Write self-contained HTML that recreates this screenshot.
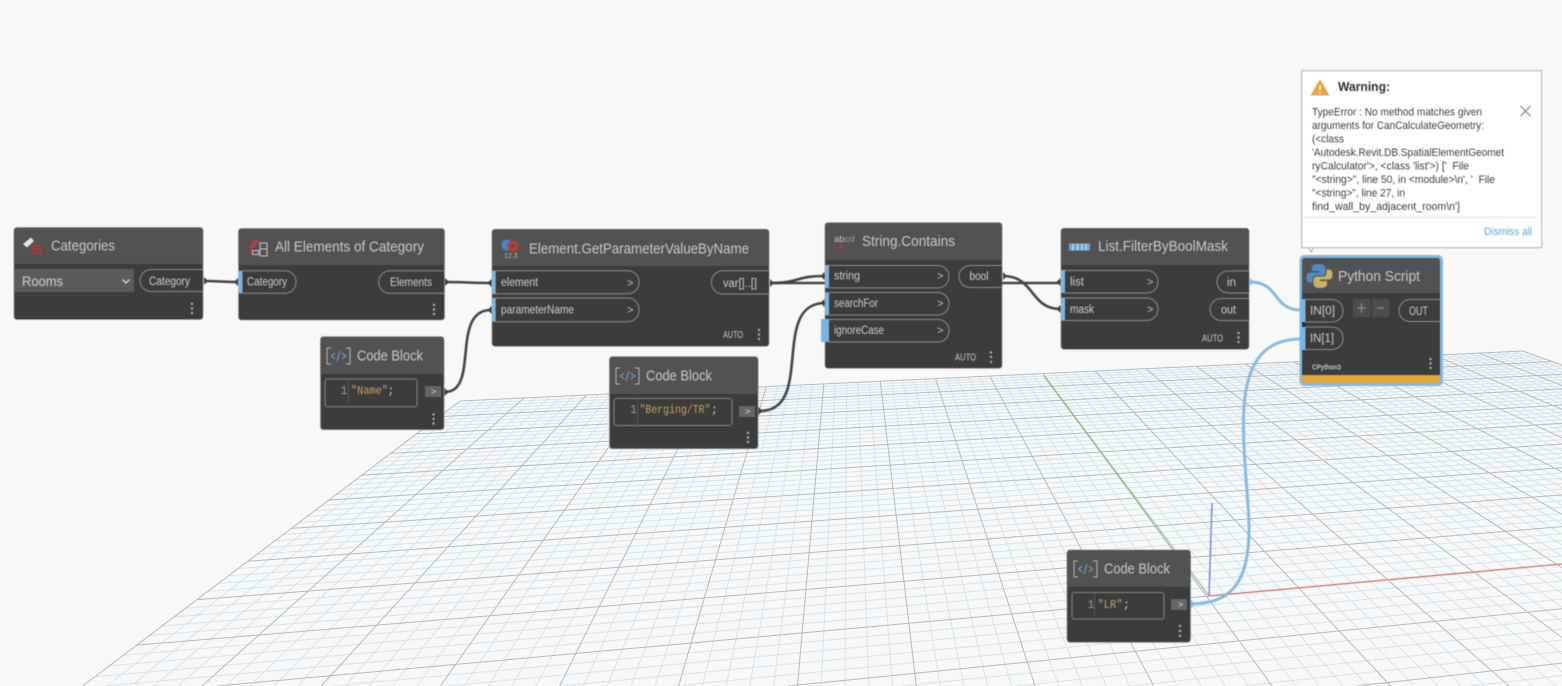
<!DOCTYPE html>
<html lang="en">
<head>
<meta charset="utf-8">
<title>Dynamo graph</title>
<style>
html,body{margin:0;padding:0;background:#f8f8f8;width:1562px;height:686px;overflow:hidden}
svg{display:block;position:absolute;left:0;top:0}
text{font-family:"Liberation Sans",sans-serif}
.t{font-size:14.5px;fill:#c9c9c9}
.p{font-size:11.5px;fill:#cfcfcf}
.a{font-size:10.5px;fill:#c8c8c8}
.g{font-size:11px;fill:#c0c0c0}
.m{font-family:"Liberation Mono",monospace;font-size:11.5px}
.w{font-size:11px;fill:#3c3c3c}
.body{fill:#3c3c3c;stroke:#8a8a8a;stroke-width:.6}
.hd{fill:#525252}
.pill{fill:#3c3c3c;stroke:#8c8c8c;stroke-width:1}
.strip{fill:#79b5e2}
.dot{fill:#b0b0b0}
.wire{fill:none;stroke:#434343;stroke-width:2.6}
.bw{fill:none;stroke:#82bbe6;stroke-width:3}
.box{fill:#3c3c3c;stroke:#858585;stroke-width:1}
.btn{fill:#666}
</style>
</head>
<body>
<svg id="grid" width="1562" height="686" viewBox="0 0 1562 686" xmlns="http://www.w3.org/2000/svg" style="filter:blur(.3px)"></svg>
<svg width="1562" height="686" viewBox="0 0 1562 686" xmlns="http://www.w3.org/2000/svg" style="filter:blur(.4px)">
<defs>
<g id="cbicon" fill="none" stroke="#b4b4b4" stroke-width="1">
<path d="M5 0H1V16H5M20 0H24V16H20"/>
<path d="M9 5L5.500 8L9 11M16 5L19.500 8L16 11M14 3L11 13" stroke="#6fa8d8"/>
</g>
</defs>

<!-- axes -->
<line x1="1044" y1="376" x2="1209" y2="596" stroke="#7dab69" stroke-width="1"/>
<line x1="1209" y1="596" x2="1562" y2="564" stroke="#e67b7b" stroke-width="1.200"/>
<line x1="1209" y1="596" x2="1212" y2="503" stroke="#6f68f0" stroke-width="1.200"/>

<!-- wires -->
<path class="wire" d="M204 281C220 281 222 282 238 282"/>
<path class="wire" d="M445 282C465 282 470 283 491 283"/>
<path class="wire" d="M445 392C480 392 450 310 491 310" />
<path class="wire" d="M770 283C800 283 795 276 825 276" stroke-width="2"/>
<path class="wire" d="M770 283H1060" stroke-width="2"/>
<path class="wire" d="M760 411C815 411 770 303 825 303"/>
<path class="wire" d="M1003 276C1035 276 1030 309 1060 309"/>
<path class="bw" d="M1250 282C1280 282 1272 310 1301 310"/>
<path class="bw" d="M1192 604C1225 603 1250 590 1249 525C1248 490 1243 460 1243.500 420C1244 365 1262 339 1301 339"/>

<!-- Categories -->
<rect class="body" x="14" y="227.500" width="189" height="92" rx="3"/>
<path class="hd" d="M14 264V230.500a3 3 0 0 1 3-3H200a3 3 0 0 1 3 3V264Z"/>
<rect x="14" y="269" width="120" height="23" fill="#5c5c5c"/>
<text x="22" y="286" font-size="14" fill="#cfcfcf" textLength="41" lengthAdjust="spacingAndGlyphs">Rooms</text>
<path d="M122.500 279.500L126 283L129.500 279.500" fill="none" stroke="#ddd" stroke-width="1.300"/>
<path class="pill" d="M203 269.500H151a11 11 0 0 0 0 22H203"/>
<text class="p" x="149" y="285" textLength="41" lengthAdjust="spacingAndGlyphs">Category</text>
<text class="t" x="51" y="250.500" textLength="64" lengthAdjust="spacingAndGlyphs">Categories</text>
<path d="M23 244L31 237.500L34 241L27 247.500Z" fill="#e4e4e4"/>
<path d="M31 246H42M31 249.500H42M31 253H42" stroke="#b23434" stroke-width="2" fill="none"/>
<circle class="dot" cx="192" cy="304" r="1.200"/><circle class="dot" cx="192" cy="308.500" r="1.200"/><circle class="dot" cx="192" cy="313" r="1.200"/>
<path d="M204 277V285L208 281Z" fill="#3c3c3c"/>

<!-- All Elements -->
<rect class="body" x="238.500" y="228.500" width="206" height="91.500" rx="3"/>
<path class="hd" d="M238.500 265V231.500a3 3 0 0 1 3-3H441.500a3 3 0 0 1 3 3V265Z"/>
<text class="t" x="275" y="251.500" textLength="149" lengthAdjust="spacingAndGlyphs">All Elements of Category</text>
<path d="M250 246L256 238.500L259 240.500L254 248L250 250Z" fill="#b83c3c"/>
<path d="M250 248V255H254" fill="none" stroke="#a53a3a"/>
<rect x="260" y="243" width="7" height="13" fill="none" stroke="#c8c8c8"/>
<path d="M260 249H267" stroke="#c8c8c8"/><rect x="252.500" y="250.500" width="6" height="4" fill="none" stroke="#c8c8c8"/>
<path class="pill" d="M242 270.700H285a11 11 0 0 1 11 11v.6a11 11 0 0 1-11 11H242"/>
<rect class="strip" x="238.500" y="270.700" width="4" height="22.600"/>
<text class="p" x="247" y="285.500" textLength="40" lengthAdjust="spacingAndGlyphs">Category</text>
<path class="pill" d="M444 270.700H390a11 11 0 0 0 0 22.600H444"/>
<text class="p" x="390" y="286" textLength="42" lengthAdjust="spacingAndGlyphs">Elements</text>
<circle class="dot" cx="434" cy="305" r="1.200"/><circle class="dot" cx="434" cy="309.500" r="1.200"/><circle class="dot" cx="434" cy="314" r="1.200"/>
<path d="M238 278V286L234 282Z" fill="#3c3c3c"/><path d="M445 278V286L449 282Z" fill="#3c3c3c"/>

<!-- Code Block 1 -->
<rect class="body" x="320.500" y="336.700" width="123.500" height="93" rx="3"/>
<path class="hd" d="M320.500 374V339.700a3 3 0 0 1 3-3H441a3 3 0 0 1 3 3V374Z"/>
<use href="#cbicon" x="326" y="348"/>
<text class="t" x="357" y="360.500" textLength="66" lengthAdjust="spacingAndGlyphs">Code Block</text>
<rect class="box" x="325" y="379" width="92" height="27.700" rx="2.500"/>
<line x1="348.500" y1="381" x2="348.500" y2="404" stroke="#555"/>
<text class="m" x="340.500" y="394" fill="#9a9a9a">1</text>
<text class="m" x="351" y="394" fill="#c9a064" textLength="37" lengthAdjust="spacingAndGlyphs">"Name"</text>
<text class="m" x="387.500" y="394" fill="#c8c8c8">;</text>
<rect class="btn" x="425" y="386" width="16" height="11"/>
<text x="431" y="394.500" font-size="9" fill="#ddd">&gt;</text>
<circle class="dot" cx="433.500" cy="414.500" r="1.200"/><circle class="dot" cx="433.500" cy="419" r="1.200"/><circle class="dot" cx="433.500" cy="423.500" r="1.200"/>
<path d="M444.500 388V396L448.500 392Z" fill="#3c3c3c"/>

<!-- Element.GetParameterValueByName -->
<rect class="body" x="492" y="229.300" width="277" height="117" rx="3"/>
<path class="hd" d="M492 266V232.300a3 3 0 0 1 3-3H766a3 3 0 0 1 3 3V266Z"/>
<text class="t" x="529" y="253.500" textLength="220" lengthAdjust="spacingAndGlyphs">Element.GetParameterValueByName</text>
<circle cx="507" cy="245" r="5.500" fill="#4a86c8"/>
<circle cx="513" cy="246" r="5.500" fill="#b83c3c"/><circle cx="513" cy="246" r="2" fill="#525252"/>
<text x="504" y="258" font-size="7" fill="#bdbdbd">12.3</text>
<path class="pill" d="M495 270.700H628a11 11 0 0 1 11 11v1a11 11 0 0 1-11 11H495"/>
<path class="pill" d="M495 298H628a11 11 0 0 1 11 11v1.700a11 11 0 0 1-11 11H495"/>
<rect class="strip" x="492" y="270.700" width="3.700" height="23.300"/>
<rect class="strip" x="492" y="298" width="3.700" height="23.700"/>
<text class="p" x="501" y="286" textLength="37" lengthAdjust="spacingAndGlyphs">element</text>
<text class="p" x="501" y="313.500" textLength="73" lengthAdjust="spacingAndGlyphs">parameterName</text>
<text class="g" x="627" y="286.500">&gt;</text><text class="g" x="627" y="313.500">&gt;</text>
<path class="pill" d="M769 270.700H723a11 11 0 0 0 0 23.300H769"/>
<text class="p" x="723" y="287" textLength="34" lengthAdjust="spacingAndGlyphs">var[]..[]</text>
<text class="a" x="723" y="338" textLength="20" lengthAdjust="spacingAndGlyphs">AUTO</text>
<circle class="dot" cx="759" cy="330" r="1.200"/><circle class="dot" cx="759" cy="334.500" r="1.200"/><circle class="dot" cx="759" cy="339" r="1.200"/>
<path d="M491.500 279V287L487.500 283Z" fill="#3c3c3c"/><path d="M491.500 306V314L487.500 310Z" fill="#3c3c3c"/><path d="M770 279V287L774 283Z" fill="#3c3c3c"/>

<!-- Code Block 2 -->
<rect class="body" x="609.500" y="356.700" width="148.500" height="92" rx="3"/>
<path class="hd" d="M609.500 394V359.700a3 3 0 0 1 3-3H755a3 3 0 0 1 3 3V394Z"/>
<use href="#cbicon" x="615" y="368"/>
<text class="t" x="646" y="380.500" textLength="66" lengthAdjust="spacingAndGlyphs">Code Block</text>
<rect class="box" x="614" y="398.500" width="118" height="27" rx="2.500"/>
<line x1="637.500" y1="400" x2="637.500" y2="424" stroke="#555"/>
<text class="m" x="630" y="413" fill="#9a9a9a">1</text>
<text class="m" x="639.500" y="413" fill="#c9a064" textLength="71" lengthAdjust="spacingAndGlyphs">"Berging/TR"</text>
<text class="m" x="711" y="413" fill="#c8c8c8">;</text>
<rect class="btn" x="739" y="406" width="16" height="11"/>
<text x="745" y="414.500" font-size="9" fill="#ddd">&gt;</text>
<circle class="dot" cx="748" cy="433" r="1.200"/><circle class="dot" cx="748" cy="437.500" r="1.200"/><circle class="dot" cx="748" cy="442" r="1.200"/>
<path d="M758.500 407V415L762.500 411Z" fill="#3c3c3c"/>

<!-- String.Contains -->
<rect class="body" x="825" y="222.700" width="177" height="145.600" rx="3"/>
<path class="hd" d="M825 260V225.700a3 3 0 0 1 3-3H999a3 3 0 0 1 3 3V260Z"/>
<text class="t" x="862" y="246" textLength="93" lengthAdjust="spacingAndGlyphs">String.Contains</text>
<text x="834" y="242" font-size="9.500" fill="#c4c4c4">ab<tspan fill="#6fa8d8">cd</tspan></text>
<path d="M838 248L841 244L844 248Z" fill="#b23c3c"/>
<path class="pill" d="M829 265.500H938a11 11 0 0 1 11 11v.4a11 11 0 0 1-11 11H829"/>
<path class="pill" d="M829 292.500H938a11 11 0 0 1 11 11v.5a11 11 0 0 1-11 11H829"/>
<path class="pill" d="M829 319.500H938a11 11 0 0 1 11 11v.5a11 11 0 0 1-11 11H829"/>
<rect class="strip" x="825" y="265" width="4" height="23"/>
<rect class="strip" x="825" y="292.300" width="4" height="23"/>
<rect class="strip" x="821" y="319" width="8" height="23"/>
<text class="p" x="834" y="279.500" textLength="26" lengthAdjust="spacingAndGlyphs">string</text>
<text class="p" x="834" y="307" textLength="44" lengthAdjust="spacingAndGlyphs">searchFor</text>
<text class="p" x="834" y="334" textLength="50" lengthAdjust="spacingAndGlyphs">ignoreCase</text>
<text class="g" x="937" y="279.500">&gt;</text><text class="g" x="937" y="307">&gt;</text><text class="g" x="937" y="334">&gt;</text>
<path class="pill" d="M1002 265.500H970a11 11 0 0 0 0 22H1002"/>
<text class="p" x="969.500" y="280" textLength="19" lengthAdjust="spacingAndGlyphs">bool</text>
<text class="a" x="955" y="360.500" textLength="21" lengthAdjust="spacingAndGlyphs">AUTO</text>
<circle class="dot" cx="991" cy="352.500" r="1.200"/><circle class="dot" cx="991" cy="357" r="1.200"/><circle class="dot" cx="991" cy="362" r="1.200"/>
<path d="M824.500 272V280L820.500 276Z" fill="#3c3c3c"/><path d="M824.500 299V307L820.500 303Z" fill="#3c3c3c"/><path d="M1003 272V280L1007 276Z" fill="#3c3c3c"/>

<!-- List.FilterByBoolMask -->
<rect class="body" x="1061" y="228.300" width="188" height="121" rx="3"/>
<path class="hd" d="M1061 265V231.300a3 3 0 0 1 3-3H1246a3 3 0 0 1 3 3V265Z"/>
<text class="t" x="1098" y="251" textLength="130" lengthAdjust="spacingAndGlyphs">List.FilterByBoolMask</text>
<rect x="1069" y="243.500" width="21" height="7" fill="#6fa8d8"/>
<path d="M1073 243.500V250.500M1077.500 243.500V250.500M1082 243.500V250.500M1086 243.500V250.500" stroke="#e0e0e0" stroke-width="1"/>
<path class="pill" d="M1065 270.500H1147a11 11 0 0 1 11 11v.5a11 11 0 0 1-11 11H1065"/>
<path class="pill" d="M1065 298H1147a11 11 0 0 1 11 11v.5a11 11 0 0 1-11 11H1065"/>
<rect class="strip" x="1061" y="270" width="4" height="23"/>
<rect class="strip" x="1061" y="297.700" width="4" height="23"/>
<text class="p" x="1070" y="285.500" textLength="14" lengthAdjust="spacingAndGlyphs">list</text>
<text class="p" x="1070" y="313" textLength="24" lengthAdjust="spacingAndGlyphs">mask</text>
<text class="g" x="1147" y="285.500">&gt;</text><text class="g" x="1147" y="313">&gt;</text>
<path class="pill" d="M1249 271H1228a11 11 0 0 0 0 22H1249"/>
<path class="pill" d="M1249 298.500H1221a11 11 0 0 0 0 22H1249"/>
<text class="p" x="1227" y="286" textLength="9" lengthAdjust="spacingAndGlyphs">in</text>
<text class="p" x="1221" y="313.500" textLength="15" lengthAdjust="spacingAndGlyphs">out</text>
<text class="a" x="1202" y="341.500" textLength="21" lengthAdjust="spacingAndGlyphs">AUTO</text>
<circle class="dot" cx="1238.500" cy="333" r="1.200"/><circle class="dot" cx="1238.500" cy="337.500" r="1.200"/><circle class="dot" cx="1238.500" cy="342" r="1.200"/>
<path d="M1060.500 278V286L1056.500 282Z" fill="#3c3c3c"/><path d="M1060.500 305V313L1056.500 309Z" fill="#3c3c3c"/>
<path d="M1250 278V286L1254 282Z" fill="#82bbe6"/>

<!-- Python Script -->
<rect x="1299.500" y="255" width="143.500" height="131" rx="5" fill="#80b9e5"/>
<rect x="1302" y="258" width="138" height="125" rx="3" fill="#3c3c3c"/>
<path class="hd" d="M1302 293V261a3 3 0 0 1 3-3H1437a3 3 0 0 1 3 3V293Z"/>
<text class="t" x="1338" y="281" textLength="82" lengthAdjust="spacingAndGlyphs">Python Script</text>
<path d="M1319 264c-5 0-7 1.500-7 4v3h7v1.500h-9c-2.500 0-3.500 2-3.500 5s1 5 3.500 5h2.500v-3.500c0-2 1.500-3.500 3.500-3.500h6c2 0 3.500-1.500 3.500-3v-4.500c0-2.500-2.500-4-6.500-4Z" fill="#4f8ac2"/>
<path d="M1320 288c5 0 7-1.500 7-4v-3h-7v-1.500h9c2.500 0 3.500-2 3.500-5s-1-5-3.500-5h-2.500v3.500c0 2-1.500 3.500-3.500 3.500h-6c-2 0-3.500 1.500-3.500 3v4.500c0 2.500 2.500 4 6.500 4Z" fill="#c9b063"/>
<rect x="1302" y="375" width="138" height="8" fill="#e3a23c"/>
<path class="pill" d="M1305 299.500H1332a11 11 0 0 1 11 11v.5a11 11 0 0 1-11 11H1305"/>
<path class="pill" d="M1305 327H1332a11 11 0 0 1 11 11v.5a11 11 0 0 1-11 11H1305"/>
<rect class="strip" x="1302" y="299" width="3.500" height="23"/>
<rect class="strip" x="1302" y="327" width="3.500" height="23"/>
<rect x="1302" y="322.500" width="3.500" height="4" fill="#2e2e2e"/>
<text class="p" x="1310" y="314.500" textLength="25" lengthAdjust="spacingAndGlyphs">IN[0]</text>
<text class="p" x="1310" y="342" textLength="24" lengthAdjust="spacingAndGlyphs">IN[1]</text>
<rect x="1353" y="299" width="17.500" height="18" rx="2" fill="#4d4d4d"/>
<rect x="1372" y="299" width="17.500" height="18" rx="2" fill="#4d4d4d"/>
<path d="M1357 308H1366M1361.500 303.500V312.500" stroke="#8f8f8f" stroke-width="1.300"/>
<path d="M1377 308H1384" stroke="#8f8f8f" stroke-width="1.300"/>
<path class="pill" d="M1440 299.500H1410a11 11 0 0 0 0 22H1440"/>
<text class="p" x="1409" y="315" textLength="19" lengthAdjust="spacingAndGlyphs">OUT</text>
<text x="1312" y="369.500" font-size="7.500" font-weight="bold" fill="#c4c4c4" textLength="29" lengthAdjust="spacingAndGlyphs">CPython3</text>
<circle class="dot" cx="1430.500" cy="359" r="1.200"/><circle class="dot" cx="1430.500" cy="363.500" r="1.200"/><circle class="dot" cx="1430.500" cy="368" r="1.200"/>

<!-- Warning popup -->
<rect x="1301.700" y="70.700" width="240" height="177" fill="#fff" stroke="#aeaeae" stroke-width="1"/>
<path d="M1309 248.500L1311 252L1313 248.500" fill="#fff" stroke="#999" stroke-width=".8"/>
<path d="M1320 79L1329.500 95.500H1310.500Z" fill="#e8a33d"/>
<path d="M1320 85V90.500M1320 92V93.500" stroke="#fff" stroke-width="1.500"/>
<text x="1338" y="91" font-size="13" font-weight="bold" fill="#2e2e2e" textLength="52" lengthAdjust="spacingAndGlyphs">Warning:</text>
<text class="w" x="1312" y="115.500" textLength="170" lengthAdjust="spacingAndGlyphs">TypeError : No method matches given</text>
<text class="w" x="1312" y="129" textLength="172" lengthAdjust="spacingAndGlyphs">arguments for CanCalculateGeometry:</text>
<text class="w" x="1312" y="142.500" textLength="32" lengthAdjust="spacingAndGlyphs">(&lt;class</text>
<text class="w" x="1312" y="156" textLength="192" lengthAdjust="spacingAndGlyphs">'Autodesk.Revit.DB.SpatialElementGeomet</text>
<text class="w" x="1312" y="169.500" textLength="157" lengthAdjust="spacingAndGlyphs" xml:space="preserve">ryCalculator'&gt;, &lt;class 'list'&gt;) ['  File</text>
<text class="w" x="1312" y="183" textLength="183" lengthAdjust="spacingAndGlyphs" xml:space="preserve">"&lt;string&gt;", line 50, in &lt;module&gt;\n', '  File</text>
<text class="w" x="1312" y="196.500" textLength="93" lengthAdjust="spacingAndGlyphs">"&lt;string&gt;", line 27, in</text>
<text class="w" x="1312" y="210" textLength="148" lengthAdjust="spacingAndGlyphs">find_wall_by_adjacent_room\n']</text>
<path d="M1520.500 106L1530.500 116M1530.500 106L1520.500 116" stroke="#777" stroke-width="1"/>
<line x1="1302" y1="217.500" x2="1541" y2="217.500" stroke="#e8e8e8"/>
<text x="1484" y="235" font-size="11" fill="#5aa5db" textLength="48" lengthAdjust="spacingAndGlyphs">Dismiss all</text>

<!-- Code Block 3 -->
<rect class="body" x="1067" y="550" width="123.500" height="92.300" rx="3"/>
<path class="hd" d="M1067 586.700V553a3 3 0 0 1 3-3H1187.500a3 3 0 0 1 3 3V586.700Z"/>
<use href="#cbicon" x="1073" y="561"/>
<text class="t" x="1104" y="573.500" textLength="66" lengthAdjust="spacingAndGlyphs">Code Block</text>
<rect class="box" x="1072" y="592.500" width="92" height="26.500" rx="2.500"/>
<line x1="1094.500" y1="594" x2="1094.500" y2="617" stroke="#555"/>
<text class="m" x="1087.500" y="608" fill="#9a9a9a">1</text>
<text class="m" x="1097.500" y="608" fill="#c9a064" textLength="25" lengthAdjust="spacingAndGlyphs">"LR"</text>
<text class="m" x="1123" y="608" fill="#c8c8c8">;</text>
<rect class="btn" x="1171" y="599" width="16" height="11"/>
<text x="1178" y="607.500" font-size="9" fill="#ddd">&gt;</text>
<circle class="dot" cx="1180" cy="626" r="1.200"/><circle class="dot" cx="1180" cy="631" r="1.200"/><circle class="dot" cx="1180" cy="636" r="1.200"/>
<path d="M1191 600V608L1195 604Z" fill="#82bbe6"/>
</svg>
<script>
(function(){
var s=document.getElementById('grid'),NS='http://www.w3.org/2000/svg';
var a=0.2146,b=-1.01,Vx=[6476,118],Vy=[848,108],A=[460,401];
var W=1562,H=686;
function P(u,v){var w=1+a*u+b*v;return[(a*u*Vx[0]+b*v*Vy[0]+A[0])/w,(a*u*Vx[1]+b*v*Vy[1]+A[1])/w];}
function L(p,q,c,wd){
  var dx=q[0]-p[0],dy=q[1]-p[1],t0=0,t1=1;
  var ps=[-dx,dx,-dy,dy],qs=[p[0],W-p[0],p[1],H-p[1]];
  for(var k=0;k<4;k++){
    if(ps[k]===0){if(qs[k]<0)return;continue;}
    var r=qs[k]/ps[k];
    if(ps[k]<0){if(r>t1)return;if(r>t0)t0=r;}
    else{if(r<t0)return;if(r<t1)t1=r;}
  }
  var l=document.createElementNS(NS,'line');
  l.setAttribute('x1',(p[0]+t0*dx).toFixed(2));l.setAttribute('y1',(p[1]+t0*dy).toFixed(2));
  l.setAttribute('x2',(p[0]+t1*dx).toFixed(2));l.setAttribute('y2',(p[1]+t1*dy).toFixed(2));
  l.setAttribute('stroke',c);l.setAttribute('stroke-width',wd);s.appendChild(l);
}
var VM=0.88,i;
for(i=0;i<=100;i++){if(i%5){L(P(i/100,0),P(i/100,VM),'#d7e3ec',1);}}
for(i=0;i<=88;i++){if(i%5){L(P(0,i/100),P(1,i/100),'#d7e3ec',1);}}
for(i=0;i<=100;i+=5){L(P(i/100,0),P(i/100,VM),'#b7bbbf',1);}
for(i=0;i<=85;i+=5){L(P(0,i/100),P(1,i/100),'#b7bbbf',1);}
})();
</script>
</body>
</html>
